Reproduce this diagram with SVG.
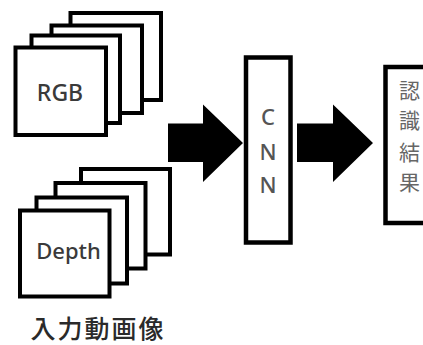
<svg xmlns="http://www.w3.org/2000/svg" width="423" height="345" viewBox="0 0 423 345">
  <style>
    .frame { fill: #ffffff; stroke: #000000; stroke-width: 4; }
    .box { fill: #ffffff; stroke: #000000; stroke-width: 4.5; }
    .lat { font-family: "Noto Sans", "Open Sans", "DejaVu Sans", sans-serif; text-anchor: middle; font-weight: 500; }
    .cjk { font-family: "Noto Sans CJK JP", "Noto Sans", sans-serif; text-anchor: middle; }
    .arrow { fill: #000000; }
  </style>
  <rect width="423" height="345" fill="#ffffff"/>

  <!-- RGB frame stack (back to front) -->
  <g id="rgb-stack">
    <rect class="frame" x="70.5" y="13" width="90.5" height="87"/>
    <rect class="frame" x="51.5" y="25.5" width="90.5" height="87.5"/>
    <rect class="frame" x="31.5" y="35.5" width="88.5" height="87.5"/>
    <rect class="frame" x="15.5" y="47.5" width="90.5" height="87.5"/>
    <text class="lat" x="60" y="101" font-size="23" fill="#3a3a3a">RGB</text>
  </g>

  <!-- Depth frame stack (back to front) -->
  <g id="depth-stack">
    <rect class="frame" x="81" y="169" width="89" height="85.5"/>
    <rect class="frame" x="55.5" y="183" width="90" height="85.5"/>
    <rect class="frame" x="36.5" y="197.5" width="90.5" height="86"/>
    <rect class="frame" x="20" y="210.5" width="89.5" height="86"/>
    <text class="lat" x="68.5" y="259" font-size="22" fill="#3a3a3a">Depth</text>
  </g>

  <!-- input label -->
  <g id="input-label">
    <text class="cjk" x="98" y="338" font-size="25" font-weight="500" letter-spacing="2" fill="#2a2a2a">入力動画像</text>
  </g>

  <!-- CNN block -->
  <g id="cnn">
    <rect class="box" x="246" y="57.5" width="44.5" height="185"/>
    <text class="lat" x="268" y="125" font-size="22" fill="#555555">C</text>
    <text class="lat" x="268" y="160" font-size="22" fill="#555555">N</text>
    <text class="lat" x="268" y="193" font-size="22" fill="#555555">N</text>
  </g>

  <!-- recognition result -->
  <g id="result">
    <rect class="box" x="385.5" y="67" width="60" height="156"/>
    <text class="cjk" x="409.5" y="98" font-size="21" fill="#666666">認</text>
    <text class="cjk" x="409.5" y="128" font-size="21" fill="#666666">識</text>
    <text class="cjk" x="409.5" y="160" font-size="21" fill="#666666">結</text>
    <text class="cjk" x="409.5" y="190" font-size="21" fill="#666666">果</text>
  </g>

  <!-- block arrows -->
  <g id="connectors">
    <polygon class="arrow" points="168,123.5 203,123.5 203,104.5 243,143 203,182 203,162 168,162"/>
    <polygon class="arrow" points="297,123.5 333,123.5 333,104.5 373,143 333,182 333,162 297,162"/>
  </g>
</svg>
